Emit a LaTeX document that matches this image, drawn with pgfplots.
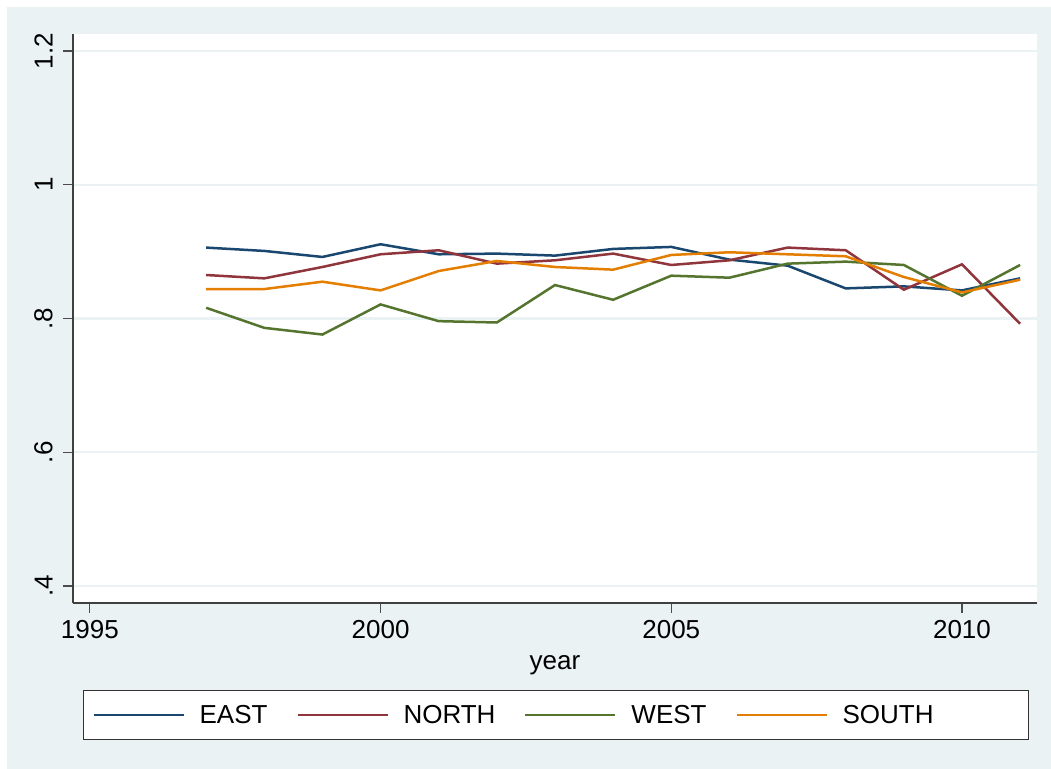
\documentclass[border=0pt]{standalone}
\usepackage{fontspec}
\setmainfont{Liberation Sans}
\usepackage{pgfplots}
\usepackage{pgfplotstable}
\pgfplotsset{compat=1.18}

\definecolor{bgc}{RGB}{234,242,243}
\definecolor{east}{RGB}{26,71,111}
\definecolor{north}{RGB}{144,53,59}
\definecolor{west}{RGB}{85,117,47}
\definecolor{south}{RGB}{227,126,0}

\pgfplotstableread{
year  EAST   NORTH  WEST   SOUTH
1997  0.906  0.865  0.816  0.844
1998  0.901  0.860  0.786  0.844
1999  0.892  0.877  0.776  0.855
2000  0.911  0.896  0.821  0.842
2001  0.896  0.902  0.796  0.871
2002  0.897  0.882  0.794  0.886
2003  0.894  0.887  0.850  0.877
2004  0.904  0.897  0.828  0.873
2005  0.907  0.880  0.864  0.895
2006  0.888  0.887  0.861  0.899
2007  0.879  0.906  0.882  0.896
2008  0.845  0.902  0.885  0.893
2009  0.848  0.843  0.880  0.862
2010  0.842  0.881  0.834  0.839
2011  0.860  0.792  0.880  0.858
}\regions

\newcommand{\chartfont}{\fontsize{13}{15}\selectfont}

\begin{document}
\begin{tikzpicture}
% graph region: white frame, light bluish background
\fill[white] (-36.5pt,-83pt) rectangle (489pt,301.5pt);
\useasboundingbox (-36.5pt,-83pt) rectangle (489pt,301.5pt);
\fill[bgc] (-33pt,-83pt) rectangle (489pt,298pt);
\begin{axis}[
    at={(0,0)}, anchor=south west,
    scale only axis, width=482pt, height=284.5pt,
    xmin=1994.71, xmax=2011.29,
    ymin=0.3746, ymax=1.2254,
    axis background/.style={fill=white},
    axis x line*=bottom, axis y line*=left,
    axis line style={-, black!75, line width=0.6pt},
    tick align=outside, major tick length=5pt,
    tick style={black!70, line width=0.6pt},
    xtick={1995,2000,2005,2010},
    xticklabels={1995,2000,2005,2010},
    ytick={0.4,0.6,0.8,1.0,1.2},
    yticklabels={.4,.6,.8,1,1.2},
    ticklabel style={font=\chartfont},
    yticklabel style={rotate=90, anchor=south, inner sep=5pt},
    ymajorgrids,
    major grid style={color=bgc, line width=1.2pt},
    xlabel={year},
    xlabel style={font=\chartfont, at={(axis description cs:0.5,0)}, anchor=base, yshift=-33.5pt},
    legend columns=4,
    legend image code/.code={\draw[#1, line width=1pt] (0pt,0pt) -- (45pt,0pt);},
    legend style={
        at={(axis description cs:0,0)}, anchor=north west,
        xshift=5pt, yshift=-43.5pt,
        draw=black!80, line width=0.6pt, fill=white,
        font=\chartfont,
        inner xsep=4.5pt, inner ysep=7.6pt,
        cells={anchor=center},
        nodes={inner sep=0pt, text depth=0pt},
        /tikz/every odd column/.append style={column sep=7.5pt},
        /tikz/every even column/.append style={column sep=14.5pt},
    },
    every axis plot/.append style={line width=1.25pt},
]
\addplot[east, no marks] table[x=year, y=EAST] {\regions};
\addlegendentry{EAST}
\addplot[north, no marks] table[x=year, y=NORTH] {\regions};
\addlegendentry{NORTH}
\addplot[west, no marks] table[x=year, y=WEST] {\regions};
\addlegendentry{WEST}
\addplot[south, no marks] table[x=year, y=SOUTH] {\regions};
\addlegendentry{SOUTH\hspace*{43pt}}
\end{axis}
\end{tikzpicture}
\end{document}
